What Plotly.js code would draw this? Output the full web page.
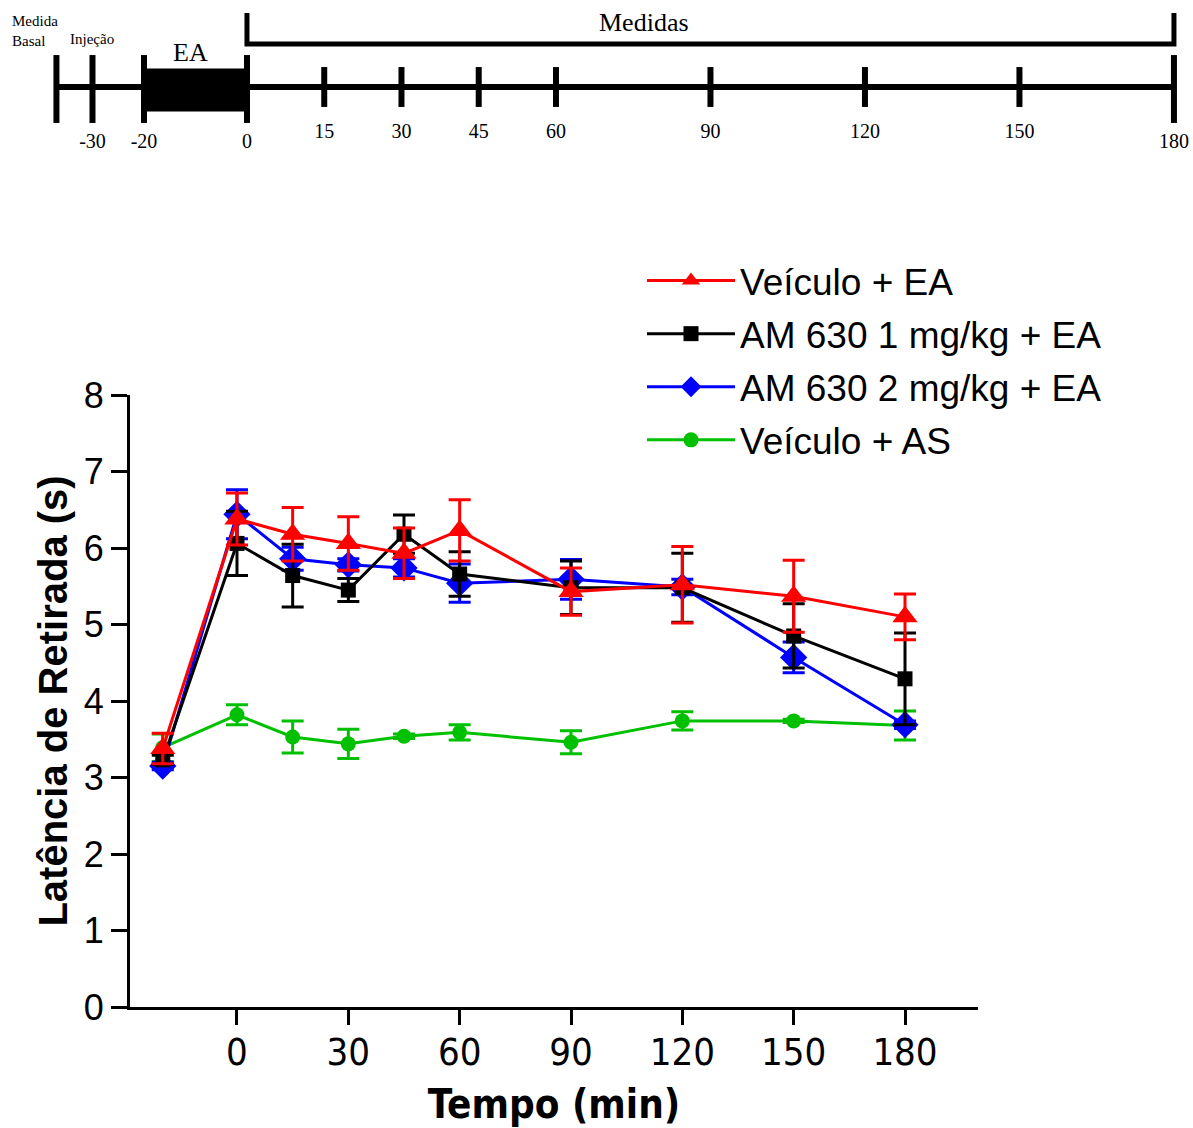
<!DOCTYPE html>
<html><head><meta charset="utf-8">
<script src="https://cdn.plot.ly/plotly-3.0.1.min.js"></script>
<style>body{margin:0;background:#fff}#chart{width:1193px;height:1128px}</style>
</head><body><div id="chart"></div>
<script>
// ---- main chart data ----
const timePoints = [-20, 0, 15, 30, 45, 60, 90, 120, 150, 180];
const seriesNames = ['Veículo + EA', 'AM 630 1 mg/kg + EA', 'AM 630 2 mg/kg + EA', 'Veículo + AS'];
const veiculoEA    = [3.38, 6.38, 6.18, 6.06, 5.93, 6.23, 5.43, 5.52, 5.37, 5.10];
const veiculoEAErr = [0.20, 0.34, 0.35, 0.35, 0.33, 0.40, 0.31, 0.50, 0.47, 0.30];
const am1EA        = [3.23, 6.06, 5.64, 5.45, 6.18, 5.66, 5.48, 5.48, 4.85, 4.29];
const am1EAErr     = [0.06, 0.42, 0.41, 0.15, 0.25, 0.29, 0.35, 0.45, 0.42, 0.60];
const am2EA        = [3.15, 6.44, 5.86, 5.78, 5.74, 5.54, 5.59, 5.49, 4.57, 3.69];
const am2EAErr     = [0.05, 0.32, 0.15, 0.08, 0.12, 0.25, 0.26, 0.10, 0.20, 0.05];
const veiculoAS    = [3.39, 3.82, 3.53, 3.44, 3.54, 3.59, 3.46, 3.74, 3.74, 3.68];
const veiculoASErr = [0.18, 0.13, 0.21, 0.19, 0.03, 0.10, 0.15, 0.12, 0.02, 0.19];
const xTickVals = [0, 30, 60, 90, 120, 150, 180];
const yTickVals = [0, 1, 2, 3, 4, 5, 6, 7, 8];
const xTitle = 'Tempo (min)';
const yTitle = 'Latência de Retirada (s)';

// ---- protocol timeline data ----
const basalTime = -37;
const injectionTime = -30;
const eaStart = -20;
const eaEnd = 0;
const measureEnd = 180;
const timelineMajor = [basalTime, injectionTime, eaStart, eaEnd, measureEnd];
const timelineMinor = [15, 30, 45, 60, 90, 120, 150];
const timelineMajorLabelPos = [-30, -20, 0, 180];
const timelineMajorLabels = ['-30', '-20', '0', '180'];
const timelineMinorLabels = ['15', '30', '45', '60', '90', '120', '150'];

const SANS = 'Liberation Sans, Arial, sans-serif';
const NARROW = 'Liberation Sans Narrow, Arial Narrow, DejaVu Sans Condensed, sans-serif';
const SERIF = 'Liberation Serif, Times New Roman, serif';

function series(y, err, name, color, symbol, size, rank) {
  return {
    type: 'scatter', mode: 'lines+markers', x: timePoints, y: y, name: name,
    xaxis: 'x', yaxis: 'y', legendrank: rank, legendgroup: 'g' + rank,
    line: {color: color, width: 3},
    marker: {color: color, symbol: symbol, size: size},
    error_y: {type: 'data', array: err, visible: true, color: color, thickness: 3, width: 11},
    cliponaxis: false
  };
}

const zeros = a => a.map(() => 0);
const tl = {xaxis: 'x2', yaxis: 'y2', showlegend: false, hoverinfo: 'skip', cliponaxis: false};

const traces = [
  series(veiculoAS, veiculoASErr, seriesNames[3], '#00c000', 'circle', 15, 4),
  series(am2EA, am2EAErr, seriesNames[2], '#0000ff', 'diamond', 21, 3),
  series(am1EA, am1EAErr, seriesNames[1], '#000000', 'square', 15, 2),
  series(veiculoEA, veiculoEAErr, seriesNames[0], '#ff0000', 'triangle-up', 22, 1),
  // timeline
  Object.assign({type: 'scatter', mode: 'lines', x: [basalTime, measureEnd], y: [0, 0],
    line: {color: '#000', width: 6}}, tl),
  Object.assign({type: 'scatter', mode: 'lines', x: [eaStart, eaEnd], y: [-3, -3],
    line: {color: '#000', width: 43}}, tl),
  Object.assign({type: 'scatter', mode: 'markers', x: timelineMajor, y: zeros(timelineMajor).map(v => v - 2),
    marker: {symbol: 'line-ns', size: 48.5, line: {color: '#000', width: 6}}}, tl),
  Object.assign({type: 'scatter', mode: 'markers', x: timelineMinor, y: zeros(timelineMinor),
    marker: {symbol: 'line-ns', size: 28.5, line: {color: '#000', width: 6}}}, tl),
  Object.assign({type: 'scatter', mode: 'lines', x: [eaEnd, eaEnd, measureEnd, measureEnd], y: [74, 43, 43, 74],
    line: {color: '#000', width: 5}}, tl),
  Object.assign({type: 'scatter', mode: 'text', x: timelineMajorLabelPos, y: zeros(timelineMajorLabelPos).map(v => v - 56),
    text: timelineMajorLabels, textfont: {family: SERIF, size: 20, color: '#000'}}, tl),
  Object.assign({type: 'scatter', mode: 'text', x: timelineMinor, y: zeros(timelineMinor).map(v => v - 46),
    text: timelineMinorLabels, textfont: {family: SERIF, size: 20, color: '#000'}}, tl)
];

const layout = {
  width: 1193, height: 1128,
  margin: {l: 0, r: 0, t: 0, b: 0},
  paper_bgcolor: '#fff', plot_bgcolor: 'rgba(0,0,0,0)',
  font: {family: SANS, color: '#000'},
  showlegend: true,
  xaxis: {
    domain: [130 / 1193, 978 / 1193], range: [-28.83, 199.67], anchor: 'y',
    showline: true, linecolor: '#000', linewidth: 3,
    ticks: 'outside', ticklen: 15, tickwidth: 3, tickcolor: '#000',
    tickvals: xTickVals, ticktext: xTickVals.map(String), ticklabelstandoff: -6,
    tickfont: {family: NARROW, size: 38, color: '#000'},
    showgrid: false, zeroline: false, fixedrange: true,
    title: {text: xTitle, font: {family: NARROW, size: 40, color: '#000', weight: 'bold'}, standoff: 18}
  },
  yaxis: {
    domain: [(1128 - 1007) / 1128, (1128 - 395) / 1128], range: [0, 8], anchor: 'x',
    showline: true, linecolor: '#000', linewidth: 3, ticks: 'outside', ticklen: 16, tickwidth: 3, tickcolor: '#000',
    tickvals: yTickVals, tickfont: {family: SANS, size: 36, color: '#000'},
    showgrid: false, zeroline: false, fixedrange: true,
    title: {text: yTitle, font: {family: SANS, size: 40, color: '#000', weight: 'bold'}, standoff: 4}
  },
  xaxis2: {
    domain: [0, 1], range: [-47.96, 183.7], anchor: 'y2', visible: false, fixedrange: true
  },
  yaxis2: {
    domain: [1 - 160 / 1128, 1], range: [-73, 87], anchor: 'x2', visible: false, fixedrange: true
  },
  legend: {
    x: 642 / 1193, y: 1 - 250 / 1128, xanchor: 'left', yanchor: 'top',
    font: {family: SANS, size: 37, color: '#000'},
    bgcolor: 'rgba(0,0,0,0)', itemwidth: 88, tracegroupgap: 2, traceorder: 'grouped'
  },
  annotations: [
    {xref: 'x2', yref: 'y2', x: basalTime - 9, y: 87 - 31, text: 'Medida<br>Basal', showarrow: false,
      xanchor: 'left', yanchor: 'middle', align: 'left', font: {family: SERIF, size: 15, color: '#000'}},
    {xref: 'x2', yref: 'y2', x: injectionTime, y: 87 - 39, text: 'Injeção', showarrow: false,
      font: {family: SERIF, size: 15, color: '#000'}},
    {xref: 'x2', yref: 'y2', x: (eaStart + eaEnd) / 2 - 1, y: 87 - 52, text: 'EA', showarrow: false,
      font: {family: SERIF, size: 26, color: '#000'}},
    {xref: 'x2', yref: 'y2', x: 77, y: 87 - 22, text: 'Medidas', showarrow: false,
      font: {family: SERIF, size: 26, color: '#000'}}
  ]
};

Plotly.newPlot('chart', traces, layout, {displayModeBar: false, staticPlot: true});
</script>
</body></html>
